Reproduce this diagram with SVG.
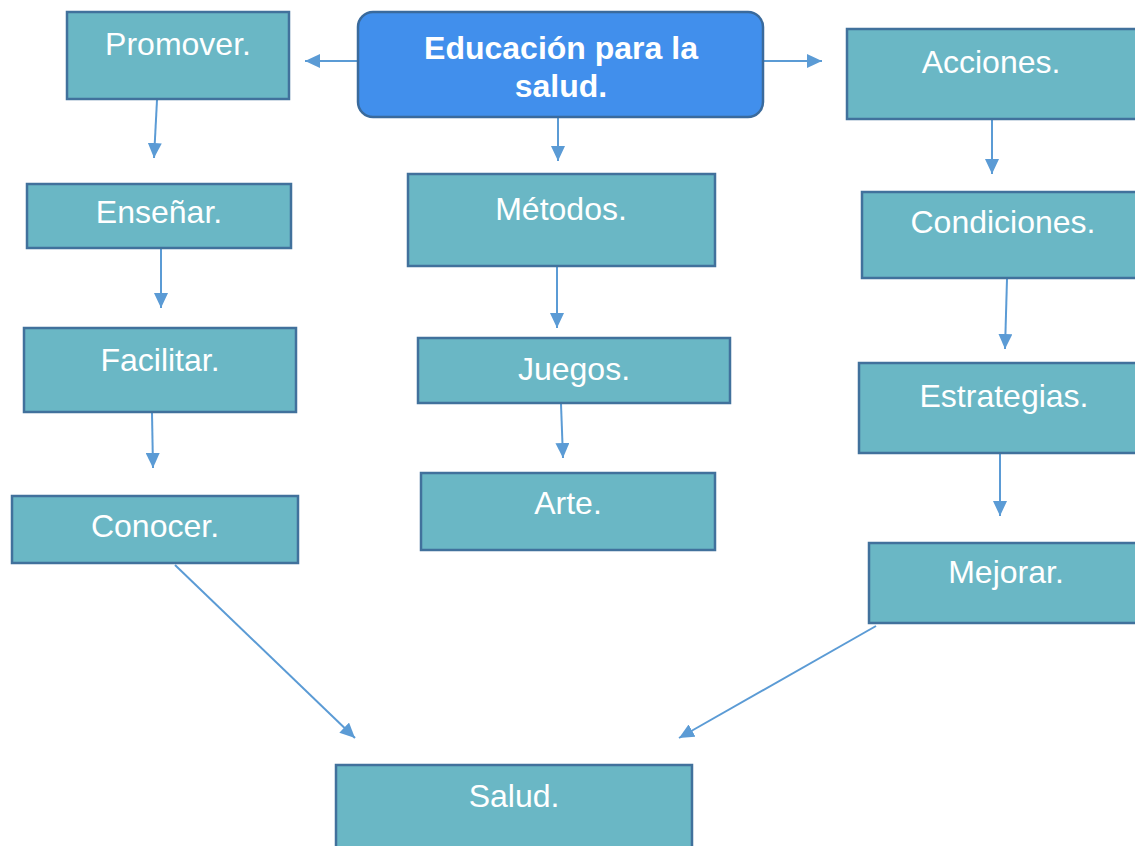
<svg xmlns="http://www.w3.org/2000/svg" width="1135" height="846" viewBox="0 0 1135 846">
<defs>
<style>
.box{fill:#6AB7C5;stroke:#41719C;stroke-width:2.5}
.main{fill:#418FEC;stroke:#3A6A9C;stroke-width:2.5}
.t{font-family:"Liberation Sans",Arial,sans-serif;font-size:32px;fill:#FFFFFF;text-anchor:middle}
.tb{font-weight:bold}
.c{fill:none;stroke:#5B9BD5;stroke-width:2;marker-end:url(#ah)}
</style>
<marker id="ah" markerUnits="userSpaceOnUse" markerWidth="15" markerHeight="14" refX="15" refY="7" orient="auto" viewBox="0 0 15 14">
<path d="M0,0 L15,7 L0,14 z" fill="#5B9BD5"/>
</marker>
</defs>
<rect width="1135" height="846" fill="#FFFFFF"/>
<g id="connectors">
<path class="c" d="M358,61 L305,61"/>
<path class="c" d="M763,61 L822,61"/>
<path class="c" d="M558,117 L558,161"/>
<path class="c" d="M157,100 L154,158"/>
<path class="c" d="M161,249 L161,308"/>
<path class="c" d="M152,413 L153,468"/>
<path class="c" d="M557,267 L557,328"/>
<path class="c" d="M561,404 L563,458"/>
<path class="c" d="M992,119 L992,174"/>
<path class="c" d="M1007,279 L1005,349"/>
<path class="c" d="M1000,453 L1000,516"/>
<path class="c" d="M175,565 L355,738"/>
<path class="c" d="M876,626 L679,738"/>
</g>
<g id="n-main"><rect class="main" x="358" y="12" width="405" height="105" rx="15"/><text class="t tb" x="561" y="59">Educación para la</text><text class="t tb" x="561" y="97">salud.</text></g>
<g id="n-promover"><rect class="box" x="67" y="12" width="222" height="87"/><text class="t" x="178" y="55">Promover.</text></g>
<g id="n-ensenar"><rect class="box" x="27" y="184" width="264" height="64"/><text class="t" x="159" y="223">Enseñar.</text></g>
<g id="n-facilitar"><rect class="box" x="24" y="328" width="272" height="84"/><text class="t" x="160" y="371">Facilitar.</text></g>
<g id="n-conocer"><rect class="box" x="12" y="496" width="286" height="67"/><text class="t" x="155" y="537">Conocer.</text></g>
<g id="n-metodos"><rect class="box" x="408" y="174" width="307" height="92"/><text class="t" x="561" y="220">Métodos.</text></g>
<g id="n-juegos"><rect class="box" x="418" y="338" width="312" height="65"/><text class="t" x="574" y="380">Juegos.</text></g>
<g id="n-arte"><rect class="box" x="421" y="473" width="294" height="77"/><text class="t" x="568" y="514">Arte.</text></g>
<g id="n-acciones"><rect class="box" x="847" y="29" width="290" height="90"/><text class="t" x="991" y="73">Acciones.</text></g>
<g id="n-condiciones"><rect class="box" x="862" y="192" width="282" height="86"/><text class="t" x="1003" y="233">Condiciones.</text></g>
<g id="n-estrategias"><rect class="box" x="859" y="363" width="290" height="90"/><text class="t" x="1004" y="407">Estrategias.</text></g>
<g id="n-mejorar"><rect class="box" x="869" y="543" width="274" height="80"/><text class="t" x="1006" y="583">Mejorar.</text></g>
<g id="n-salud"><rect class="box" x="336" y="765" width="356" height="90"/><text class="t" x="514" y="807">Salud.</text></g>
</svg>
